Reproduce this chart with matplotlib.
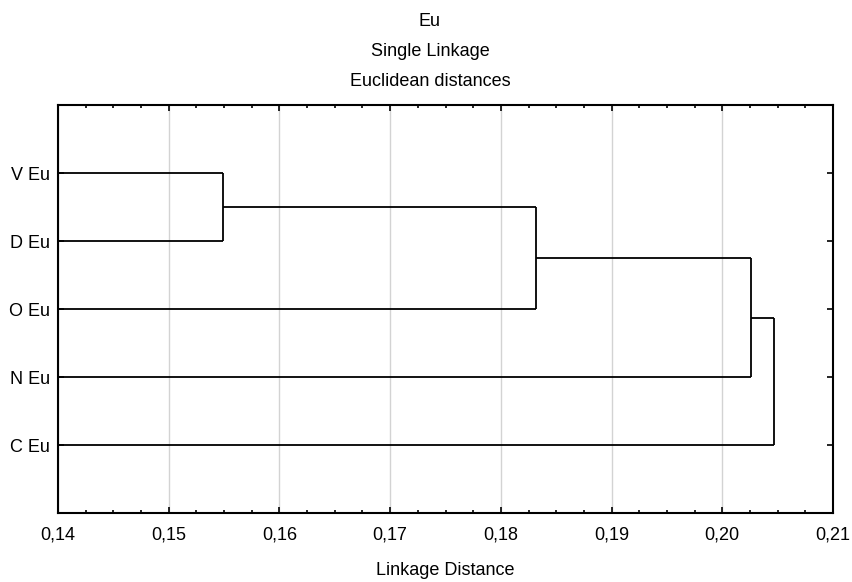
import matplotlib
matplotlib.use("Agg")
import matplotlib.pyplot as plt
from matplotlib.ticker import MultipleLocator, FuncFormatter

plt.rcParams['font.family'] = ['Liberation Sans', 'DejaVu Sans']

# leaves, top to bottom
leaves = ["V Eu", "D Eu", "O Eu", "N Eu", "C Eu"]
# merges: (left cluster, right cluster, linkage distance)
merges = [
    ("V Eu", "D Eu", 0.1549),
    ("V Eu+D Eu", "O Eu", 0.1832),
    ("V Eu+D Eu+O Eu", "N Eu", 0.2026),
    ("V Eu+D Eu+O Eu+N Eu", "C Eu", 0.2047),
]
titles = ["Eu", "Single Linkage", "Euclidean distances"]
x_min, x_max = 0.14, 0.21
fs = 13
W, H = 853, 582

fig = plt.figure(figsize=(W / 100, H / 100), dpi=100)
ax = fig.add_axes([58 / W, 1 - 513 / H, (833 - 58) / W, (513 - 105) / H])

# positions of clusters: y and current x (height)
ypos = {name: i + 1 for i, name in enumerate(leaves)}
xpos = {name: x_min for name in leaves}

for a, b, d in merges:
    ya, yb = ypos[a], ypos[b]
    ax.plot([xpos[a], d], [ya, ya], color='black', lw=1.3, solid_capstyle='butt')
    ax.plot([xpos[b], d], [yb, yb], color='black', lw=1.3, solid_capstyle='butt')
    ax.plot([d, d], [ya, yb], color='black', lw=1.3, solid_capstyle='butt')
    new = a + "+" + b
    ypos[new] = (ya + yb) / 2
    xpos[new] = d

ax.set_xlim(x_min, x_max)
ax.set_ylim(len(leaves) + 1, 0)
ax.set_yticks(range(1, len(leaves) + 1))
ax.set_yticklabels(leaves, fontsize=fs)

ax.xaxis.set_major_locator(MultipleLocator(0.01))
ax.xaxis.set_minor_locator(MultipleLocator(0.0025))
ax.xaxis.set_major_formatter(FuncFormatter(lambda v, p: f"{v:.2f}".replace(".", ",")))
ax.tick_params(axis='both', which='both', direction='in', top=True, right=True,
               labelsize=fs, width=1.2)
ax.tick_params(axis='x', which='major', length=4, pad=10)
ax.tick_params(axis='x', which='minor', length=2.5)
ax.tick_params(axis='y', length=4, pad=5.5)

ax.grid(axis='x', which='major', color='#d3d3d3', lw=1)
ax.set_axisbelow(True)
for s in ax.spines.values():
    s.set_linewidth(1.5)

fig.text(445 / W, 1 - 575 / H, "Linkage Distance", ha='center', va='baseline', fontsize=fs)
for i, t in enumerate(titles):
    fig.text(430 / W, 1 - (25.5 + 30.3 * i) / H, t, ha='center', va='baseline', fontsize=fs)

fig.savefig("out.png", dpi=100)
